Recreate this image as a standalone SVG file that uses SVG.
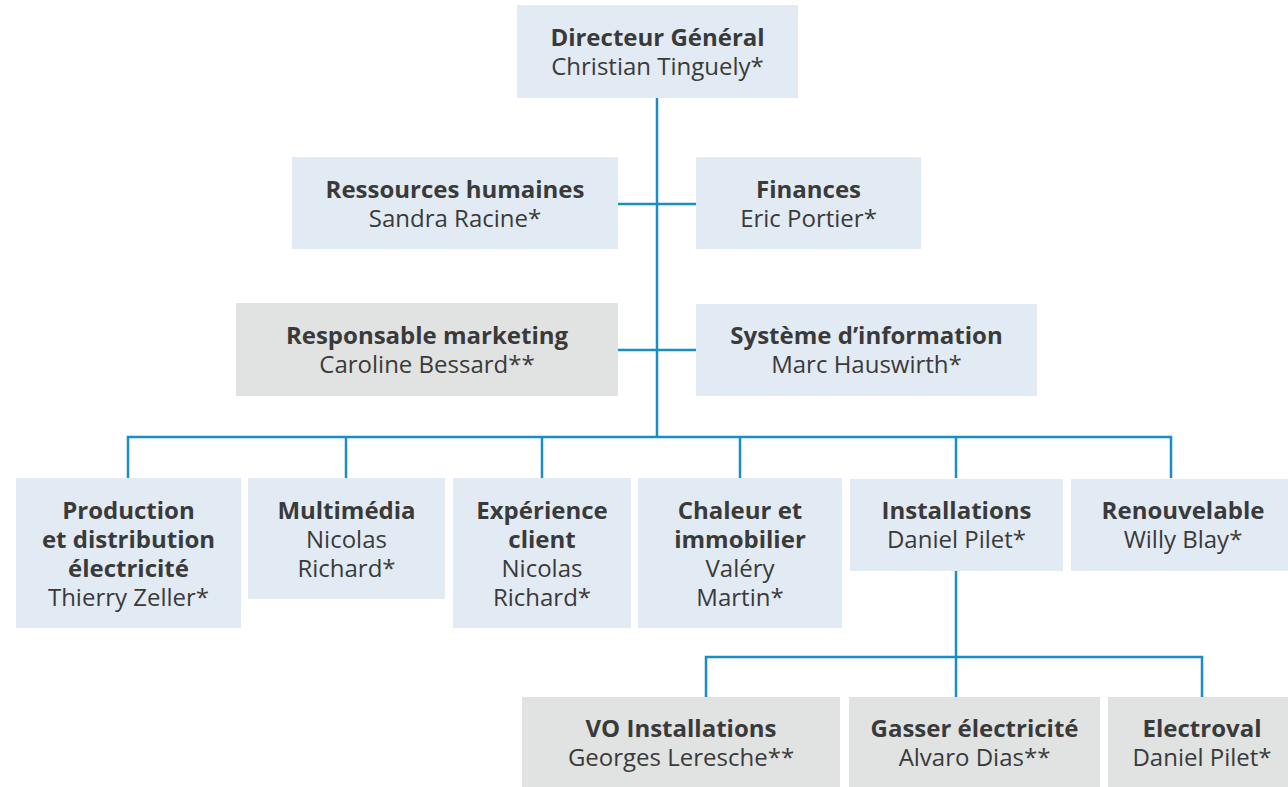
<svg xmlns="http://www.w3.org/2000/svg" width="1288" height="787" viewBox="0 0 1288 787">
<style>
.blue{fill:#e2eaf3}
.gray{fill:#e1e2e2}
text{font-family:"Open Sans","Noto Sans","Liberation Sans",sans-serif;font-size:24px;fill:#3a3a3a;text-anchor:middle}
.b{font-weight:700}
.conn{stroke:#1a8dc1;stroke-width:2.5;fill:none}
</style>
<rect width="1288" height="787" fill="#ffffff"/>
<g id="connectors">
<path class="conn" d="M657,98 V437"/>
<path class="conn" d="M618,204 H696"/>
<path class="conn" d="M618,350 H696"/>
<path class="conn" d="M128,478 V437 H1171 V478"/>
<path class="conn" d="M346,437 V478"/>
<path class="conn" d="M542,437 V478"/>
<path class="conn" d="M740,437 V478"/>
<path class="conn" d="M956,437 V478"/>
<path class="conn" d="M956,571 V697"/>
<path class="conn" d="M706,697 V657 H1202 V697"/>
</g>
<g id="directeur">
<rect class="blue" x="517" y="5" width="281" height="93"/>
<text x="657.5" y="46" class="b">Directeur Général</text>
<text x="657.5" y="75">Christian Tinguely*</text>
</g>
<g id="rh">
<rect class="blue" x="292" y="157" width="326" height="92"/>
<text x="455" y="197.5" class="b">Ressources humaines</text>
<text x="455" y="226.5">Sandra Racine*</text>
</g>
<g id="finances">
<rect class="blue" x="696" y="157" width="225" height="92"/>
<text x="808.5" y="197.5" class="b">Finances</text>
<text x="808.5" y="226.5">Eric Portier*</text>
</g>
<g id="marketing">
<rect class="gray" x="236" y="303" width="382" height="93"/>
<text x="427" y="344" class="b">Responsable marketing</text>
<text x="427" y="373">Caroline Bessard**</text>
</g>
<g id="si">
<rect class="blue" x="696" y="304" width="341" height="92"/>
<text x="866.5" y="344" class="b">Système d’information</text>
<text x="866.5" y="373">Marc Hauswirth*</text>
</g>
<g id="production">
<rect class="blue" x="16" y="478" width="225" height="150"/>
<text x="128.5" y="519" class="b">Production</text>
<text x="128.5" y="548" class="b">et distribution</text>
<text x="128.5" y="577" class="b">électricité</text>
<text x="128.5" y="606">Thierry Zeller*</text>
</g>
<g id="multimedia">
<rect class="blue" x="248" y="478" width="197" height="121"/>
<text x="346.5" y="519" class="b">Multimédia</text>
<text x="346.5" y="548">Nicolas</text>
<text x="346.5" y="577">Richard*</text>
</g>
<g id="experience">
<rect class="blue" x="453" y="478" width="178" height="150"/>
<text x="542" y="519" class="b">Expérience</text>
<text x="542" y="548" class="b">client</text>
<text x="542" y="577">Nicolas</text>
<text x="542" y="606">Richard*</text>
</g>
<g id="chaleur">
<rect class="blue" x="638" y="478" width="204" height="150"/>
<text x="740" y="519" class="b">Chaleur et</text>
<text x="740" y="548" class="b">immobilier</text>
<text x="740" y="577">Valéry</text>
<text x="740" y="606">Martin*</text>
</g>
<g id="installations">
<rect class="blue" x="850" y="479" width="213" height="92"/>
<text x="956.5" y="519" class="b">Installations</text>
<text x="956.5" y="548">Daniel Pilet*</text>
</g>
<g id="renouvelable">
<rect class="blue" x="1071" y="479" width="217" height="92"/>
<text x="1183" y="519" class="b">Renouvelable</text>
<text x="1183" y="548">Willy Blay*</text>
</g>
<g id="vo">
<rect class="gray" x="522" y="697" width="318" height="90"/>
<text x="681" y="737" class="b">VO Installations</text>
<text x="681" y="766">Georges Leresche**</text>
</g>
<g id="gasser">
<rect class="gray" x="849" y="697" width="251" height="90"/>
<text x="974.5" y="737" class="b">Gasser électricité</text>
<text x="974.5" y="766">Alvaro Dias**</text>
</g>
<g id="electroval">
<rect class="gray" x="1108" y="697" width="180" height="90"/>
<text x="1202" y="737" class="b">Electroval</text>
<text x="1202" y="766">Daniel Pilet*</text>
</g>
</svg>
